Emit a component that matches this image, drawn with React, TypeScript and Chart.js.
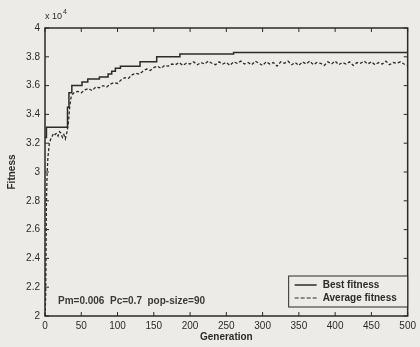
import { useEffect, useRef } from "react";
import { Chart, registerables } from "chart.js";
Chart.register(...registerables);

const seriesNames = ["Best fitness", "Average fitness"];
const xAxisTitle = "Generation";
const yAxisTitle = "Fitness";
const paramText = "Pm=0.006  Pc=0.7  pop-size=90";
const yExponentBase = "x 10";
const yExponent = "4";
const xMin = 0, xMax = 500, xStep = 50;
const yMin = 2, yMax = 4, yStep = 0.2;

const bestGen = [0, 2, 31, 33, 37, 51, 59, 75, 87, 92, 97, 104, 131, 154, 186, 260, 500];
const bestVal = [3.24, 3.31, 3.45, 3.55, 3.6, 3.625, 3.645, 3.66, 3.68, 3.7, 3.72, 3.735, 3.765, 3.8, 3.82, 3.83, 3.83];

const avgGen = [0, 1, 2, 3, 4, 6, 8, 10, 12, 14, 16, 18, 20, 22, 24, 26, 28, 30, 32, 34, 36, 38, 40,
  45, 50, 55, 60, 65, 70, 75, 80, 85, 90, 95, 100, 105, 110, 115, 120, 125, 130, 135, 140, 145, 150,
  155, 160, 165, 170, 175, 180, 185, 190, 195, 200, 205, 210, 215, 220, 225, 230, 235, 240, 245, 250,
  255, 260, 265, 270, 275, 280, 285, 290, 295, 300, 305, 310, 315, 320, 325, 330, 335, 340, 345, 350,
  355, 360, 365, 370, 375, 380, 385, 390, 395, 400, 405, 410, 415, 420, 425, 430, 435, 440, 445, 450,
  455, 460, 465, 470, 475, 480, 485, 490, 495, 500];
const avgVal = [2.0, 2.15, 2.8, 3.0, 3.1, 3.2, 3.23, 3.25, 3.27, 3.26, 3.27, 3.25, 3.28, 3.27, 3.24, 3.26, 3.23, 3.27, 3.33, 3.45, 3.52, 3.54, 3.55,
  3.56, 3.55, 3.57, 3.58, 3.565, 3.59, 3.585, 3.6, 3.59, 3.61, 3.62, 3.615, 3.64, 3.655, 3.65, 3.675, 3.685, 3.68, 3.7, 3.715, 3.705, 3.725,
  3.735, 3.72, 3.74, 3.735, 3.75, 3.745, 3.76, 3.74, 3.755, 3.75, 3.765, 3.745, 3.76, 3.75, 3.77, 3.755, 3.745, 3.765, 3.75, 3.76,
  3.74, 3.765, 3.755, 3.77, 3.75, 3.76, 3.745, 3.77, 3.755, 3.74, 3.765, 3.75, 3.76, 3.735, 3.765, 3.755, 3.77, 3.745, 3.76, 3.74,
  3.765, 3.75, 3.77, 3.745, 3.76, 3.755, 3.74, 3.765, 3.75, 3.77, 3.745, 3.76, 3.75, 3.765, 3.74, 3.76, 3.755, 3.77, 3.75, 3.765,
  3.745, 3.76, 3.75, 3.77, 3.745, 3.76, 3.755, 3.765, 3.75, 3.74];

const INK = "#2b2b2b";
const BG = "#ecebe7";
const FONT = "'Liberation Sans', Arial, sans-serif";

const decorPlugin = {
  id: "decor",
  beforeDraw(chart: any) {
    const { ctx, width, height } = chart;
    ctx.save();
    ctx.fillStyle = BG;
    ctx.fillRect(0, 0, width, height);
    ctx.restore();
  },
  afterDatasetsDraw(chart: any) {
    const { ctx, chartArea: a, scales } = chart;
    ctx.save();
    ctx.strokeStyle = INK;
    ctx.lineWidth = 1.5;
    ctx.strokeRect(a.left, a.top, a.right - a.left, a.bottom - a.top);
    ctx.lineWidth = 1;
    const tl = 4;
    scales.x.ticks.forEach((t: any) => {
      const px = scales.x.getPixelForValue(t.value);
      ctx.beginPath();
      ctx.moveTo(px, a.bottom); ctx.lineTo(px, a.bottom - tl);
      ctx.moveTo(px, a.top); ctx.lineTo(px, a.top + tl);
      ctx.stroke();
    });
    scales.y.ticks.forEach((t: any) => {
      const py = scales.y.getPixelForValue(t.value);
      ctx.beginPath();
      ctx.moveTo(a.left, py); ctx.lineTo(a.left + tl, py);
      ctx.moveTo(a.right, py); ctx.lineTo(a.right - tl, py);
      ctx.stroke();
    });
    // exponent label
    ctx.fillStyle = INK;
    ctx.textBaseline = "alphabetic";
    ctx.textAlign = "left";
    ctx.font = `9px ${FONT}`;
    ctx.fillText(yExponentBase, a.left, a.top - 9);
    const w = ctx.measureText(yExponentBase).width;
    ctx.font = `7px ${FONT}`;
    ctx.fillText(yExponent, a.left + w + 1, a.top - 14);
    // parameter text
    ctx.font = `bold 10px ${FONT}`;
    ctx.fillStyle = "#3a3a3a";
    ctx.fillText(paramText, a.left + 13, a.bottom - 12);
    // legend box
    const bx = a.right - 119, by = a.bottom - 40, bw = 119, bh = 31;
    ctx.fillStyle = BG;
    ctx.fillRect(bx, by, bw, bh);
    ctx.lineWidth = 1;
    ctx.strokeRect(bx, by, bw, bh);
    ctx.fillStyle = INK;
    ctx.font = `bold 10px ${FONT}`;
    ctx.textBaseline = "middle";
    const rows = [by + 9, by + 22];
    ctx.lineWidth = 1.5;
    ctx.beginPath();
    ctx.setLineDash([]);
    ctx.moveTo(bx + 6, rows[0]); ctx.lineTo(bx + 28, rows[0]);
    ctx.stroke();
    ctx.lineWidth = 1.2;
    ctx.setLineDash([4, 2]);
    ctx.beginPath();
    ctx.moveTo(bx + 6, rows[1]); ctx.lineTo(bx + 28, rows[1]);
    ctx.stroke();
    ctx.setLineDash([]);
    ctx.fillText(seriesNames[0], bx + 34, rows[0]);
    ctx.fillText(seriesNames[1], bx + 34, rows[1]);
    ctx.restore();
  },
};

export default function App() {
  const ref = useRef<HTMLCanvasElement | null>(null);
  useEffect(() => {
    document.body.style.margin = "0";
    const chart = new Chart(ref.current as HTMLCanvasElement, {
      type: "line",
      data: {
        datasets: [
          {
            label: seriesNames[0],
            data: bestGen.map((g, i) => ({ x: g, y: bestVal[i] })),
            borderColor: INK,
            borderWidth: 1.5,
            pointRadius: 0,
            stepped: "before",
            fill: false,
          },
          {
            label: seriesNames[1],
            data: avgGen.map((g, i) => ({ x: g, y: avgVal[i] })),
            borderColor: INK,
            borderWidth: 1.3,
            borderDash: [3, 2],
            pointRadius: 0,
            tension: 0,
            fill: false,
          },
        ],
      },
      options: {
        animation: false,
        responsive: false,
        layout: { autoPadding: false, padding: { top: 28, right: 11, left: 0, bottom: 0 } },
        plugins: { legend: { display: false }, tooltip: { enabled: false } },
        scales: {
          x: {
            type: "linear",
            min: xMin,
            max: xMax,
            grid: { display: false, drawTicks: false },
            border: { display: false },
            ticks: { stepSize: xStep, padding: 4, color: INK, font: { family: FONT, size: 10 }, maxRotation: 0, autoSkip: false },
            title: { display: true, text: xAxisTitle, color: INK, font: { family: FONT, size: 10, weight: "bold" }, padding: { top: 0, bottom: 4 } },
            afterFit: (s: any) => { s.height = 31; },
          },
          y: {
            type: "linear",
            min: yMin,
            max: yMax,
            grid: { display: false, drawTicks: false },
            border: { display: false },
            ticks: {
              stepSize: yStep,
              padding: 5,
              color: INK,
              font: { family: FONT, size: 10 },
              callback: (v: any) => String(Number(Number(v).toFixed(1))),
            },
            title: { display: true, text: yAxisTitle, color: INK, font: { family: FONT, size: 10, weight: "bold" }, padding: { top: 6, bottom: 0 } },
            afterFit: (s: any) => { s.width = 45; },
          },
        },
      },
      plugins: [decorPlugin],
    } as any);
    return () => chart.destroy();
  }, []);
  return <canvas ref={ref} width={420} height={347} style={{ display: "block" }} />;
}
